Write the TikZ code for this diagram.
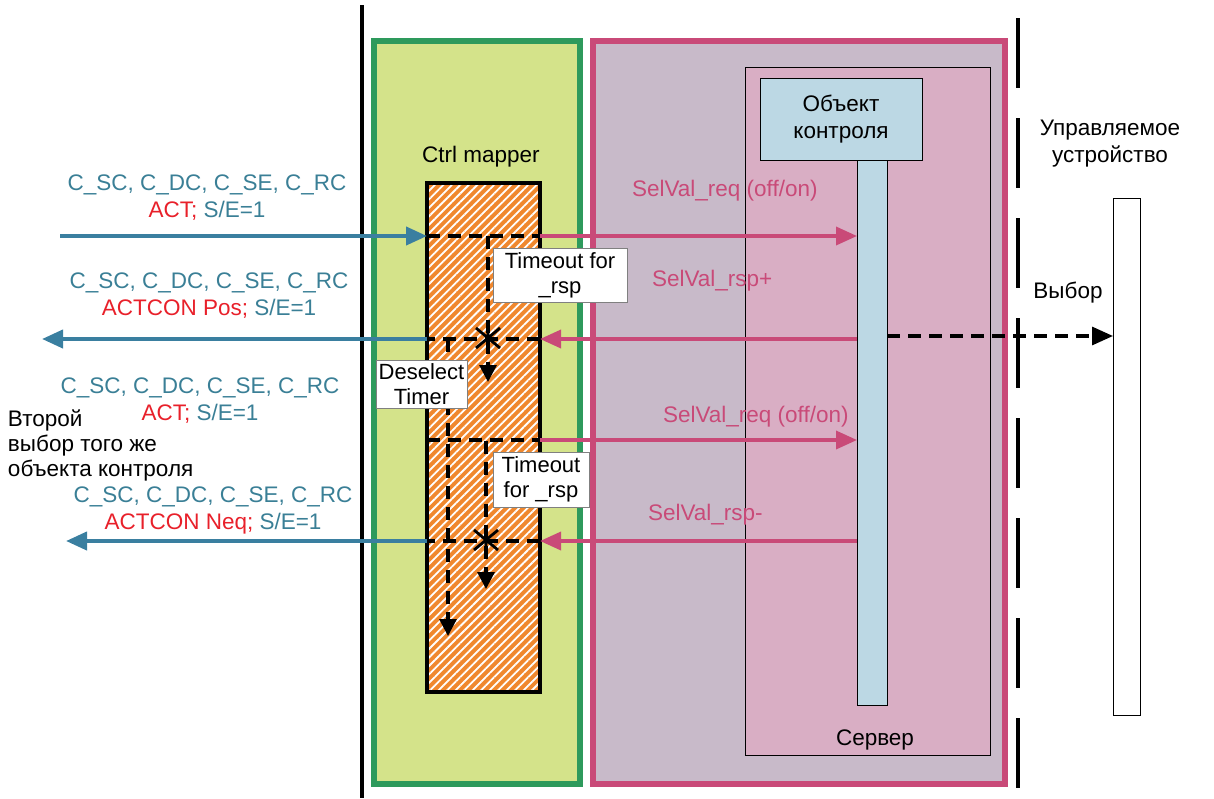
\documentclass[tikz,border=0pt]{standalone}
\usepackage{fontspec}
\setmainfont{Liberation Sans}
\usetikzlibrary{arrows.meta,patterns.meta}
\definecolor{tealt}{HTML}{3A7F96}
\definecolor{arrblue}{HTML}{3A7FA0}
\definecolor{redt}{HTML}{E8202A}
\definecolor{pinkl}{HTML}{C94A78}
\definecolor{greenb}{HTML}{2E9A5C}
\definecolor{greenf}{HTML}{D4E38A}
\definecolor{lav}{HTML}{C8BAC9}
\definecolor{srvpink}{HTML}{D9AEC4}
\definecolor{lblue}{HTML}{BCD8E4}
\definecolor{orangef}{HTML}{F0882E}
\begin{document}
\begin{tikzpicture}[x=1pt,y=-1pt,
  every node/.style={font=\fontsize{22.5}{27}\selectfont, inner sep=0pt, outer sep=0pt},
  boxn/.style={draw, anchor=north west, inner sep=0pt, outer sep=0pt},
  bluearr/.style={draw=arrblue, line width=4pt, -{Triangle[length=21pt,width=18pt]}},
  pinkarr/.style={draw=pinkl, line width=3.5pt, -{Triangle[length=21pt,width=18pt]}},
  dashln/.style={draw=black, line width=3.2pt, dash pattern=on 13pt off 8pt},
  timerarr/.style={dashln, -{Triangle[length=17pt,width=17pt]}},
  astx/.style={draw=black, line width=2.8pt},
  tbox/.style={draw=gray, fill=white, line width=1pt, align=center, anchor=north west, font=\fontsize{22}{25}\selectfont},
  lbl/.style={align=center, text=tealt},
  plbl/.style={anchor=west, text=pinkl}]
\useasboundingbox (0,0) rectangle (1214,798);

% containers
\node[boxn, draw=greenb, line width=6pt, fill=greenf, minimum width=206pt, minimum height=743pt] (cm) at (374,41) {};
\node[boxn, draw=pinkl, line width=6pt, fill=lav, minimum width=412pt, minimum height=743pt] (srv) at (593,41) {};
\node[boxn, line width=1pt, fill=srvpink, minimum width=245pt, minimum height=688pt] (sb) at (745,67) {};
\node[boxn, line width=1pt, fill=lblue, minimum width=162pt, minimum height=82pt, align=center] (obj) at (760,78) {Объект\\контроля};
\node[boxn, line width=1pt, fill=lblue, minimum width=30pt, minimum height=545pt] (ll) at (857,160) {};
\node[boxn, line width=1pt, fill=white, minimum width=27pt, minimum height=517pt] (dev) at (1113,198) {};
\node[boxn, line width=3.5pt, preaction={fill=orangef}, pattern={Lines[angle=45,distance=6pt,line width=1.8pt]}, pattern color=white, minimum width=113pt, minimum height=509pt] (om) at (427,183) {};

% boundary lines
\coordinate (v1t) at (362,5);
\coordinate (v1b) at (362,798);
\draw[line width=4.5pt] (v1t) -- (v1b);
\coordinate (v2t) at (1018,18);
\coordinate (v2b) at (1018,798);
\draw[line width=3.5pt, dash pattern=on 70pt off 30pt] (v2t) -- (v2b);

% titles
\node (cmt) at (481,157) {Ctrl mapper};
\node (srvt) at (875,740) {Сервер};
\node[align=center] (devt) at (1110,144) {Управляемое\\устройство};
\node (selt) at (1068,293) {Выбор};

% row 1: ACT
\coordinate (y1) at (0,236);
\coordinate (s1) at (60,236);
\draw[bluearr] (s1) -- (om.west |- y1);
\draw[dashln] (om.west |- y1) -- (om.east |- y1);
\draw[pinkarr] (om.east |- y1) -- (ll.west |- y1);

% timer 1
\coordinate (t1a) at (488,236);
\coordinate (t1b) at (488,382);
\draw[timerarr] (t1a) -- (t1b);

% row 2: ACTCON Pos
\coordinate (y2) at (0,339);
\coordinate (e2) at (42,339);
\draw[pinkarr] (ll.west |- y2) -- (om.east |- y2);
\draw[dashln] (om.east |- y2) -- (om.west |- y2);
\draw[bluearr] (om.west |- y2) -- (e2);
\coordinate (ast1) at (488,338);
\draw[astx] (ast1) ++(0,-13) -- ++(0,26) (ast1) ++(-12,-10) -- ++(24,20) (ast1) ++(-12,10) -- ++(24,-20);

% deselect timer
\coordinate (d1a) at (448,339);
\coordinate (d1b) at (448,636);
\draw[timerarr] (d1a) -- (d1b);

% select to device
\coordinate (y5) at (0,336);
\draw[dashln, -{Triangle[length=21pt,width=18pt]}] (ll.east |- y5) -- (dev.west |- y5);

% row 3: second ACT
\coordinate (y3) at (0,440);
\draw[dashln] (om.west |- y3) -- (om.east |- y3);
\draw[pinkarr] (om.east |- y3) -- (ll.west |- y3);

% timer 2
\coordinate (t2a) at (486,441);
\coordinate (t2b) at (486,589);
\draw[timerarr] (t2a) -- (t2b);

% row 4: ACTCON Neq
\coordinate (y4) at (0,541);
\coordinate (e4) at (66,541);
\draw[pinkarr] (ll.west |- y4) -- (om.east |- y4);
\draw[dashln] (om.east |- y4) -- (om.west |- y4);
\draw[bluearr] (om.west |- y4) -- (e4);
\coordinate (ast2) at (486,540);
\draw[astx] (ast2) ++(0,-13) -- ++(0,26) (ast2) ++(-12,-10) -- ++(24,20) (ast2) ++(-12,10) -- ++(24,-20);

% timer boxes
\node[tbox, minimum width=134pt, minimum height=54pt] (tb1) at (493,248) {Timeout for\\\_rsp};
\node[tbox, minimum width=96pt, minimum height=55pt] (tb2) at (493,452) {Timeout\\for \_rsp};
\node[tbox, minimum width=91pt, minimum height=48pt] (dsb) at (376,360) {Deselect\\Timer};

% left labels
\node[lbl] (l1) at (207,198) {C\_SC, C\_DC, C\_SE, C\_RC\\{\color{redt}ACT;} S/E=1};
\node[lbl] (l2) at (209,296) {C\_SC, C\_DC, C\_SE, C\_RC\\{\color{redt}ACTCON Pos;} S/E=1};
\node[lbl] (l3) at (200,401) {C\_SC, C\_DC, C\_SE, C\_RC\\{\color{redt}ACT;} S/E=1};
\node[lbl] (l4) at (213,510) {C\_SC, C\_DC, C\_SE, C\_RC\\{\color{redt}ACTCON Neq;} S/E=1};
\node[align=left, anchor=west, font=\fontsize{22.5}{25}\selectfont] (l5) at (8,445) {Второй\\выбор того же\\объекта контроля};

% pink labels
\node[plbl] (p1) at (632,191) {SelVal\_req (off/on)};
\node[plbl] (p2) at (652,281) {SelVal\_rsp+};
\node[plbl] (p3) at (663,417) {SelVal\_req (off/on)};
\node[plbl] (p4) at (648,515) {SelVal\_rsp-};
\end{tikzpicture}
\end{document}
